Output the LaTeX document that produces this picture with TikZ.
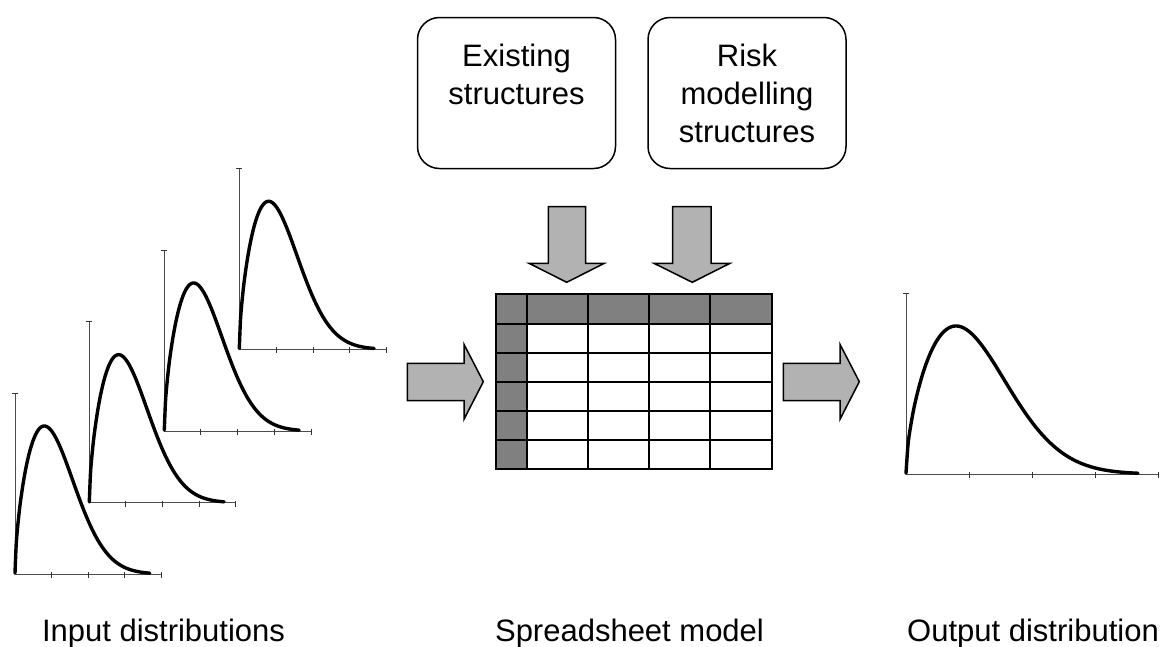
\documentclass[tikz,border=0pt]{standalone}
\usepackage{fontspec}
\setmainfont{Liberation Sans}
\tikzset{
  axisline/.style={draw=black!70, line width=1pt},
  tickline/.style={draw=black!80, line width=1pt},
  curveline/.style={draw=black, line width=3.4pt, line join=round, line cap=round},
  blockarrow/.style={draw=black, line width=1.5pt, fill=black!30, line join=miter},
  boxstyle/.style={draw=black, line width=1.5pt, rounded corners=22pt, minimum width=198pt, minimum height=151pt, inner sep=0pt},
  lbl/.style={font=\fontsize{31}{38}\selectfont, inner sep=0pt, anchor=base},
  cellgrid/.style={draw=black, line width=2pt},
  hdr/.style={fill=black!50}
}
\newcommand\distchart[5]{%
  \draw[axisline] (#1,#2-181) -- (#1,#2);
  \draw[tickline] (#1-3,#2-181) -- (#1+3,#2-181);
  \draw[axisline] (#1,#2) -- (#1+#4,#2);
  \foreach \k in {1,2,3,4} \draw[tickline] (#1+\k*#4/4,#2-2) -- (#1+\k*#4/4,#2+4);
  \draw[curveline] plot[domain=0.0001:#5, samples=120, smooth] ({#1+#3*\x},{#2-148*(\x^0.6)*exp(0.3*(1-\x*\x))});
}
\begin{document}
\begin{tikzpicture}[x=1pt,y=-1pt]
\useasboundingbox[fill=white] (0,0) rectangle (1163,646);

% top boxes
\node[boxstyle] (exist) at (516.5,93) {};
\node[boxstyle] (risk) at (747,93) {};
\node[lbl] (ex1) at (516.5,66.7) {Existing};
\node[lbl] (ex2) at (516.5,104.7) {structures};
\node[lbl] (rk1) at (747,66.7) {Risk};
\node[lbl] (rk2) at (747,104.7) {modelling};
\node[lbl] (rk3) at (747,142.7) {structures};

% down arrows
\draw[blockarrow] (548.3,206.7) -- (585.7,206.7) -- (585.7,263.3) -- (604.3,263.3) -- (566.7,282.3) -- (529,263.3) -- (548.3,263.3) -- cycle;
\draw[blockarrow] (672.7,206.7) -- (711,206.7) -- (711,263.3) -- (730,263.3) -- (692.3,282.3) -- (654,263.3) -- (672.7,263.3) -- cycle;

% left and right arrows
\draw[blockarrow] (407.3,363.3) -- (464,363.3) -- (464,344.3) -- (483.3,381.7) -- (464,419.3) -- (464,400.7) -- (407.3,400.7) -- cycle;
\draw[blockarrow] (783.3,363.3) -- (840,363.3) -- (840,344.3) -- (859.3,381.7) -- (840,419.3) -- (840,400.7) -- (783.3,400.7) -- cycle;

% spreadsheet
\fill[hdr] (495.7,294.3) rectangle (771.7,324.3);
\fill[hdr] (495.7,294.3) rectangle (526.7,469.3);
\foreach \cx in {526.7,587.7,649,710.3} \draw[cellgrid] (\cx,294.3) -- (\cx,469.3);
\foreach \ry in {324.3,353.3,382.3,411,440} \draw[cellgrid] (495.7,\ry) -- (771.7,\ry);
\draw[cellgrid] (495.7,294.3) rectangle (771.7,469.3);

% input distributions
\distchart{15}{574}{29.3}{146}{4.6}
\distchart{89.3}{502.7}{29.3}{146.5}{4.6}
\distchart{164.3}{431}{29.3}{146.7}{4.6}
\distchart{239.3}{349.3}{29.3}{147.4}{4.6}

% output distribution
\distchart{906}{474}{50}{252.3}{4.64}

% labels
\node[lbl] (inlab) at (163.5,641) {Input distributions};
\node[lbl] (sslab) at (629.5,641) {Spreadsheet model};
\node[lbl] (outlab) at (1033,641) {Output distribution};
\end{tikzpicture}
\end{document}
